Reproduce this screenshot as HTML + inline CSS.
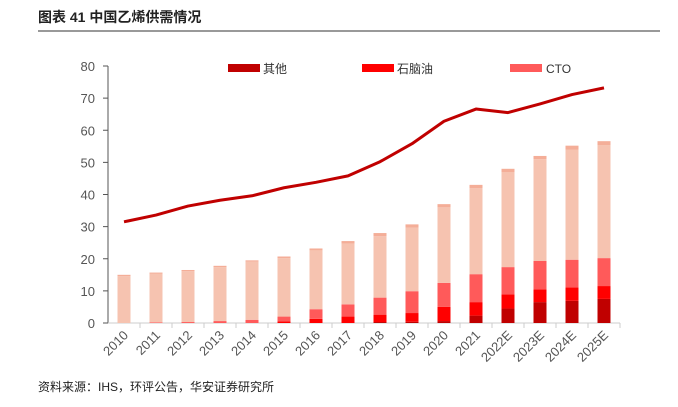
<!DOCTYPE html>
<html><head><meta charset="utf-8"><style>
body{margin:0;background:#fff;font-family:"Liberation Sans","Noto Sans CJK SC",sans-serif}
</style></head><body>
<svg width="678" height="402" xmlns="http://www.w3.org/2000/svg">
<text x="38" y="22" font-size="14" font-weight="bold" fill="#222" font-family="'Liberation Sans','Noto Sans CJK SC',sans-serif">图表 41  中国乙烯供需情况</text>
<line x1="38" y1="31" x2="660" y2="31" stroke="#333" stroke-width="1"/>
<g id="axes"></g><g id="bars"></g><g id="line"></g>
<g>
<rect x="228" y="64" width="32" height="8" fill="#c00000"/>
<text x="263" y="73" font-size="12" fill="#333">其他</text>
<rect x="362" y="64" width="32" height="8" fill="#ff0000"/>
<text x="397" y="73" font-size="12" fill="#333">石脑油</text>
<rect x="510" y="64" width="32" height="8" fill="#ff5a5a"/>
<text x="546" y="73" font-size="12" fill="#333">CTO</text>
</g>
<text x="38" y="391" font-size="12" fill="#222">资料来源：IHS，环评公告，华安证券研究所</text>
</svg>
<script>
const categories=["2010","2011","2012","2013","2014","2015","2016","2017","2018","2019","2020","2021","2022E","2023E","2024E","2025E"];
const other=[0,0,0,0,0,0,0,0,0.3,0.4,0.6,2.3,4.5,6.5,6.9,7.5];
const naphtha=[0,0,0,0,0,0.5,1.3,2.0,2.3,2.7,4.4,4.2,4.4,4.0,4.2,4.0];
const cto=[0,0.2,0.3,0.6,1.0,1.5,3.0,3.8,5.3,6.8,7.5,8.7,8.5,8.8,8.6,8.7];
const steam=[14.6,15.1,15.8,16.8,18.1,18.2,18.3,18.9,19.1,19.8,23.5,26.8,29.6,31.7,34.3,35.2];
const topSeg=[0.4,0.4,0.4,0.4,0.4,0.5,0.6,0.8,1.0,1.0,1.0,1.0,1.0,1.0,1.2,1.2];
const demand=[31.5,33.6,36.4,38.2,39.6,42.1,43.8,45.8,50.2,55.8,62.8,66.6,65.5,68.2,71.1,73.2];
const yTicks=[0,10,20,30,40,50,60,70,80];
const NS="http://www.w3.org/2000/svg";
const x0=108,x1=620,y0=323,y1=66,yMax=80;
const bw=(x1-x0)/categories.length;
const Y=v=>y0-(v/yMax)*(y0-y1);
const X=i=>x0+bw*(i+0.5);
function mk(t,a,p){const e=document.createElementNS(NS,t);for(const k in a)e.setAttribute(k,a[k]);p.appendChild(e);return e;}
const ax=document.getElementById('axes'),bars=document.getElementById('bars'),ln=document.getElementById('line');
let e=mk('line',{x1:x0,y1:y0,x2:x0,y2:y1,stroke:'#555'},ax);


e=mk('line',{x1:x0,y1:y0,x2:x1,y2:y0,stroke:'#ccc'},ax);


yTicks.forEach(v=>{
 let t=mk('line',{x1:x0-5,y1:Y(v),x2:x0,y2:Y(v),stroke:'#555'},ax);
 
 
 let l=mk('text',{x:x0-13,y:Y(v)+5,'font-size':13,fill:'#555','text-anchor':'end'},ax);l.textContent=v;
 
 
});
const series=[[other,'#c00000','other'],[naphtha,'#ff0000','naphtha'],[cto,'#ff5a5a','cto'],[steam,'#f6c3b0','steam-cracking'],[topSeg,'#f4ae98','other-top']];
categories.forEach((c,i)=>{
 let t=mk('line',{x1:x0+bw*(i+1),y1:y0,x2:x0+bw*(i+1),y2:y0+5,stroke:'#ccc'},ax);
 
 
 let l=mk('text',{x:X(i)+5,y:y0+13,'font-size':13,fill:'#555','text-anchor':'end',transform:`rotate(-45 ${X(i)+5} ${y0+13})`},ax);l.textContent=c;
 
 
 let acc=0;
 series.forEach(([arr,col,nm])=>{
  const v=arr[i];if(v>0){
   const r=mk('rect',{x:X(i)-6.5,y:Y(acc+v),width:13,height:Y(acc)-Y(acc+v),fill:col},bars);
   
   
  }
  acc+=v;
 });
});
const p=mk('polyline',{points:demand.map((v,i)=>X(i)+','+Y(v)).join(' '),fill:'none',stroke:'#c00000','stroke-width':3,'stroke-linejoin':'round'},ln);


</script>
</body></html>
